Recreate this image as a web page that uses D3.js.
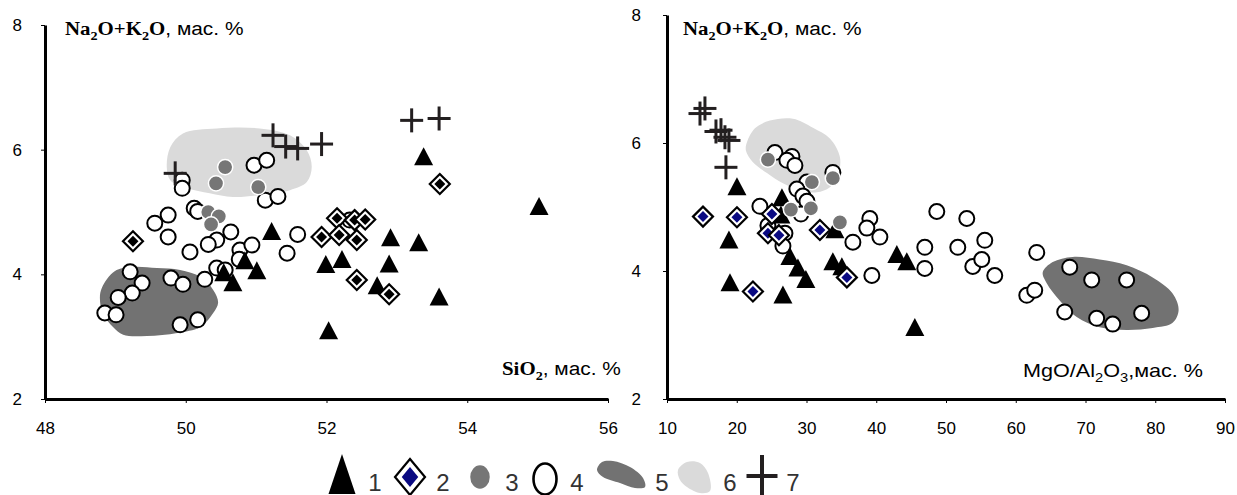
<!DOCTYPE html>
<html>
<head>
<meta charset="utf-8">
<style>
  body { margin: 0; background: #fff; }
  svg text { font-family: "Liberation Sans", Arial, sans-serif; }
</style>
</head>
<body>
<svg width="1237" height="495"></svg>
<script src="https://d3js.org/d3.v7.min.js"></script>
<script>
// ---- data: left panel, SiO2 vs Na2O+K2O ----
var leftXTicks = [48, 50, 52, 54, 56];
var rightXTicks = [10, 20, 30, 40, 50, 60, 70, 80, 90];
var yTicks = [2, 4, 6, 8];

var leftTri = [[51.22,4.68],[50.54,4.02],[50.67,3.86],[50.84,4.21],[51.01,4.05],[51.99,4.15],[52.22,4.23],
  [52.91,4.58],[53.31,4.50],[52.89,4.16],[52.72,3.81],[53.60,3.63],[52.03,3.09],[53.38,5.88],[55.02,5.08]];
var leftDiam = [[49.25,4.53],[52.15,4.90],[52.40,4.87],[52.55,4.88],[51.93,4.60],[52.18,4.63],[52.43,4.55],
  [52.43,3.91],[52.89,3.68],[53.61,5.45]];
var leftGray = [[50.56,5.72],[50.43,5.46],[51.03,5.40],[50.32,5.00],[50.47,4.93],[50.36,4.80]];
var leftOpen = [[49.95,5.51],[49.95,5.38],[50.97,5.75],[51.15,5.83],[51.13,5.19],[51.31,5.25],[50.12,5.06],
  [50.17,5.01],[49.75,4.95],[49.56,4.82],[49.75,4.60],[50.64,4.68],[50.44,4.55],[50.32,4.48],[50.06,4.36],
  [50.77,4.39],[50.94,4.47],[50.76,4.24],[51.59,4.64],[51.44,4.34],[50.44,4.10],[50.56,4.07],[50.27,3.92],
  [49.21,4.04],[49.38,3.86],[49.24,3.70],[49.04,3.63],[48.85,3.38],[49.01,3.35],[49.79,3.94],[49.96,3.84],
  [49.92,3.19],[50.17,3.27],[52.33,4.87]];
var leftCross = [[49.85,5.62],[51.24,6.23],[51.42,6.05],[51.59,6.02],[51.93,6.09],[53.21,6.47],[53.60,6.50]];
var leftField5 = [[48.99,4.05],[49.25,4.12],[49.59,4.10],[49.92,4.07],[50.21,3.96],[50.39,3.75],[50.46,3.55],
  [50.39,3.38],[50.20,3.15],[49.88,3.06],[49.45,3.01],[49.11,3.03],[48.97,3.15],[48.82,3.38],[48.78,3.62],[48.81,3.79]];
var leftField6 = [[49.78,6.04],[49.96,6.26],[50.44,6.34],[51.05,6.34],[51.48,6.23],[51.72,5.99],[51.79,5.72],
  [51.72,5.48],[51.48,5.35],[51.05,5.27],[50.67,5.24],[50.34,5.30],[50.02,5.38],[49.78,5.51],[49.73,5.72]];

// ---- data: right panel, MgO/Al2O3 vs Na2O+K2O ----
var rightTri = [[20.03,5.31],[18.88,4.48],[19.03,3.81],[26.48,5.14],[26.33,4.87],[27.62,4.22],[28.77,4.04],
  [29.91,3.86],[33.78,4.14],[35.07,4.06],[34.07,4.64],[42.95,4.25],[44.38,4.14],[45.53,3.11],[26.62,3.62]];
var rightDiam = [[15.16,4.85],[20.03,4.84],[25.04,4.89],[24.47,4.59],[26.05,4.56],[31.92,4.64],[22.32,3.68],[35.79,3.90]];
var rightGray = [[24.47,5.74],[30.77,5.39],[33.78,5.45],[27.77,4.96],[30.63,4.98],[34.79,4.76]];
var rightOpen = [[25.47,5.85],[27.91,5.79],[27.19,5.73],[28.34,5.65],[30.06,5.39],[33.78,5.54],[28.62,5.28],
  [29.48,5.17],[30.06,5.09],[23.32,5.01],[29.20,4.89],[24.47,4.71],[26.91,4.59],[26.62,4.39],[39.08,4.82],
  [38.65,4.67],[40.52,4.53],[36.65,4.45],[39.37,3.93],[48.68,4.93],[52.98,4.82],[46.96,4.37],[46.96,4.04],
  [51.69,4.37],[55.56,4.48],[53.84,4.07],[55.13,4.18],[56.99,3.93],[63.01,4.29],[61.58,3.62],[62.72,3.70],
  [67.74,4.06],[70.89,3.86],[75.90,3.86],[67.02,3.36],[71.60,3.26],[73.90,3.17],[78.05,3.34]];
var rightCross = [[14.73,6.46],[15.44,6.54],[17.02,6.18],[17.74,6.20],[18.31,6.09],[18.88,6.04],[18.45,5.62]];
var rightField5 = [[63.87,3.98],[65.30,4.14],[68.17,4.22],[72.03,4.18],[75.90,4.09],[79.63,3.90],[82.49,3.65],
  [83.35,3.39],[82.49,3.19],[79.63,3.11],[75.90,3.08],[72.03,3.12],[68.74,3.28],[66.30,3.54],[64.44,3.81]];
var rightField6 = [[21.46,6.01],[22.61,6.23],[24.76,6.35],[28.05,6.38],[30.92,6.24],[33.35,6.07],[34.79,5.78],
  [34.50,5.49],[33.35,5.31],[31.49,5.23],[29.05,5.26],[26.62,5.37],[24.33,5.53],[22.32,5.70],[21.32,5.88]];

var legendLabels = ["1", "2", "3", "4", "5", "6", "7"];

var svg = d3.select("svg");
var SERIF = "'Liberation Serif', 'Times New Roman', serif";
var SANS = "'Liberation Sans', Arial, sans-serif";
var DARK = "#727272", LIGHT = "#dadada", GRAYDOT = "#767676", CROSS = "#231f20";

// marker painters
function triangle(g, cx, cy, w, h) {
  g.append("path")
    .attr("d", "M" + cx + "," + (cy - h * 0.55) + "L" + (cx + w / 2) + "," + (cy + h * 0.45) +
      "L" + (cx - w / 2) + "," + (cy + h * 0.45) + "Z")
    .attr("fill", "#000");
}
function rhomb(cx, cy, hw, hh) {
  return "M" + cx + "," + (cy - hh) + "L" + (cx + hw) + "," + cy + "L" + cx + "," + (cy + hh) + "L" + (cx - hw) + "," + cy + "Z";
}
function diamond(g, cx, cy, hw, hh, inner) {
  g.append("path").attr("d", rhomb(cx, cy, hw, hh)).attr("fill", "#fff").attr("stroke", "#000").attr("stroke-width", 2.2);
  g.append("path").attr("d", rhomb(cx, cy, hw * 0.55, hh * 0.55)).attr("fill", inner);
}
function grayDot(g, cx, cy, rx, ry) {
  g.append("ellipse").attr("cx", cx).attr("cy", cy).attr("rx", rx).attr("ry", ry)
    .attr("fill", GRAYDOT).attr("stroke", "#fff").attr("stroke-width", 1.5);
}
function openDot(g, cx, cy, rx, ry, sw) {
  g.append("ellipse").attr("cx", cx).attr("cy", cy).attr("rx", rx).attr("ry", ry)
    .attr("fill", "#fff").attr("stroke", "#000").attr("stroke-width", sw || 2);
}
function cross(g, cx, cy, hw, hh, sw) {
  g.append("line").attr("x1", cx - hw).attr("x2", cx + hw).attr("y1", cy).attr("y2", cy)
    .attr("stroke", CROSS).attr("stroke-width", sw);
  g.append("line").attr("x1", cx).attr("x2", cx).attr("y1", cy - hh).attr("y2", cy + hh)
    .attr("stroke", CROSS).attr("stroke-width", sw);
}

// text with subscripts; kind: B bold serif, b bold serif sub, N sans, n sans sub
function richLabel(x, y, parts, size, sx) {
  var t = svg.append("text")
    .attr("transform", "translate(" + x + "," + y + ") scale(" + sx + ",1)")
    .attr("font-size", size).attr("fill", "#000");
  var shifted = false;
  parts.forEach(function(p) {
    var sub = p[1] === p[1].toLowerCase();
    var ts = t.append("tspan").text(p[0]);
    if (p[1].toUpperCase() === "B") ts.attr("font-family", SERIF).attr("font-weight", "bold");
    else ts.attr("font-family", SANS);
    if (sub) ts.attr("font-size", size * 0.68);
    if (sub && !shifted) { ts.attr("dy", size * 0.25); shifted = true; }
    else if (!sub && shifted) { ts.attr("dy", -size * 0.25); shifted = false; }
  });
}

function drawPanel(o) {
  var x = d3.scaleLinear().domain(o.xDomain).range(o.xRange);
  var y = d3.scaleLinear().domain([2, 8]).range(o.yRange);
  var g = svg.append("g");

  var blob = d3.line().curve(d3.curveCatmullRomClosed.alpha(0.5))
    .x(function(d) { return x(d[0]); }).y(function(d) { return y(d[1]); });
  g.append("path").attr("d", blob(o.field6)).attr("fill", LIGHT);
  g.append("path").attr("d", blob(o.field5)).attr("fill", DARK);

  var painters = {
    open: function() { o.open.forEach(function(d) { openDot(g, x(d[0]), y(d[1]), 7.5, 7.5, 2); }); },
    gray: function() { o.gray.forEach(function(d) { grayDot(g, x(d[0]), y(d[1]), 7.6, 7.6); }); },
    tri: function() { o.tri.forEach(function(d) { triangle(g, x(d[0]), y(d[1]), 19, 18); }); },
    diam: function() { o.diam.forEach(function(d) { diamond(g, x(d[0]), y(d[1]), 10, 10, o.diamFill); }); },
    cross: function() { o.cross.forEach(function(d) { cross(g, x(d[0]), y(d[1]), 11.5, 12, 3); }); }
  };
  o.order.forEach(function(k) { painters[k](); });

  var xa = svg.append("g").attr("transform", "translate(0," + o.yRange[0] + ")")
    .call(d3.axisBottom(x).tickValues(o.xTicks).tickFormat(d3.format("d"))
      .tickSizeInner(4).tickSizeOuter(0).tickPadding(19));
  var ya = svg.append("g").attr("transform", "translate(" + o.xRange[0] + ",0)")
    .call(d3.axisLeft(y).tickValues(yTicks).tickFormat(d3.format("d"))
      .tickSizeInner(4).tickSizeOuter(0).tickPadding(o.yPad));
  [xa, ya].forEach(function(a) {
    a.attr("font-size", null).attr("font-family", null);
    a.select(".domain").attr("stroke", "#000").attr("stroke-width", 3);
    a.selectAll(".tick line").attr("stroke", "#000").attr("stroke-width", 1);
    a.selectAll(".tick text").style("font-family", SANS).style("font-size", "17px").attr("fill", "#000");
  });
}

drawPanel({
  xDomain: [48, 56], xRange: [45, 608], yRange: [399, 25], xTicks: leftXTicks, yPad: 19,
  tri: leftTri, diam: leftDiam, gray: leftGray, open: leftOpen, cross: leftCross,
  field5: leftField5, field6: leftField6, diamFill: "#000",
  order: ["open", "gray", "tri", "diam", "cross"]
});
drawPanel({
  xDomain: [10, 90], xRange: [667, 1225], yRange: [399, 15], xTicks: rightXTicks, yPad: 22,
  tri: rightTri, diam: rightDiam, gray: rightGray, open: rightOpen, cross: rightCross,
  field5: rightField5, field6: rightField6, diamFill: "#0a0a82",
  order: ["tri", "open", "gray", "diam", "cross"]
});

// axis titles
var naK = [["Na", "B"], ["2", "b"], ["O+K", "B"], ["2", "b"], ["O", "B"], [", мас. %", "N"]];
richLabel(65, 35, naK, 18, 1.16);
richLabel(683, 35, naK, 18, 1.16);
richLabel(502, 375, [["SiO", "B"], ["2", "b"], [", мас. %", "N"]], 18, 1.16);
richLabel(1023, 377, [["MgO/Al", "N"], ["2", "n"], ["O", "N"], ["3", "n"], [",мас. %", "N"]], 18, 1.2);

// legend
var lg = svg.append("g");
triangle(lg, 342, 476, 27, 40);
diamond(lg, 410, 477, 15, 18, "#0a0a82");
grayDot(lg, 480, 477, 10.5, 12.5);
openDot(lg, 545, 479, 11.5, 15.5, 2.6);
var blobLine = d3.line().curve(d3.curveCatmullRomClosed.alpha(0.5));
lg.append("path").attr("fill", DARK)
  .attr("d", blobLine([[597,470],[602,462],[613,461],[630,467],[643,478],[645,487],[635,488],[620,483],[603,477]]));
lg.append("path").attr("fill", LIGHT)
  .attr("d", blobLine([[678,470],[687,462],[700,463],[708,473],[710,491],[700,493],[687,487],[680,480]]));
cross(lg, 762, 476, 15.5, 21, 4);
var lx = [375, 443, 512, 577, 662, 730, 793];
lg.selectAll("text.num").data(legendLabels).enter().append("text")
  .attr("class", "num")
  .attr("x", function(d, i) { return lx[i]; }).attr("y", 491)
  .attr("text-anchor", "middle")
  .attr("font-family", SERIF).attr("font-size", 24).attr("fill", "#333")
  .text(function(d) { return d; });
</script>
</body>
</html>
